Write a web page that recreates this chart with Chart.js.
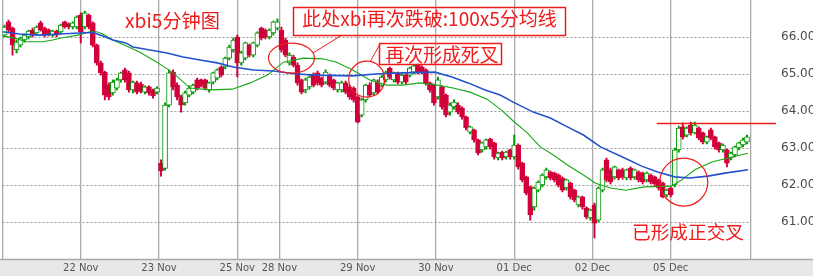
<!DOCTYPE html>
<html>
<head>
<meta charset="utf-8">
<script src="https://cdn.jsdelivr.net/npm/chart.js@4.4.1/dist/chart.umd.min.js"></script>
<style>
  html, body { margin: 0; padding: 0; background: #fff; }
  #wrap { width: 813px; height: 276px; position: relative; }
</style>
</head>
<body>
<div id="wrap"><canvas id="chart"></canvas></div>
<script>
// 日付の区切り（5分足のバー番号）とラベル
const dayStarts = [0, 78, 156, 234, 276, 354, 432, 510, 588, 666, 746];
const dayLabels = ['', '22 Nov', '23 Nov', '25 Nov', '28 Nov', '29 Nov', '30 Nov', '01 Dec', '02 Dec', '05 Dec', ''];
const priceTicks = [61, 62, 63, 64, 65, 66];

// ローソク足（20分ごとにまとめた値）
const opens = [
  66.05, 66.41, 66.24, 65.65, 65.78, 65.92, 66.00, 66.19, 66.11, 66.38,
  66.24, 66.19, 66.05, 66.16, 66.14, 66.41, 66.35, 66.27, 66.27, 66.59,
  66.27, 66.59, 66.38, 65.78, 65.30, 65.05, 64.70, 64.49, 64.62, 64.84,
  65.11, 65.03, 64.57, 64.76, 64.73, 64.51, 64.65, 64.57, 64.51, 62.59,
  62.45, 64.16, 65.05, 64.70, 64.38, 64.22, 64.43, 64.51, 64.84, 64.84,
  64.84, 64.57, 64.78, 64.89, 65.19, 65.19, 65.43, 65.65, 66.00, 65.30,
  65.43, 65.78, 65.51, 65.78, 66.24, 66.19, 66.00, 66.11, 66.24, 66.19,
  65.92, 65.30, 65.46, 65.24, 64.84, 64.57, 64.65, 64.97, 65.03, 64.89,
  64.78, 64.97, 64.84, 64.57, 64.57, 64.76, 64.65, 64.62, 64.38, 63.89,
  64.30, 64.70, 64.49, 64.78, 64.70, 64.84, 65.16, 64.84, 65.03, 64.78,
  64.97, 64.97, 65.05, 65.24, 65.19, 65.11, 64.76, 64.70, 64.38, 64.65,
  64.43, 63.97, 64.11, 64.16, 64.08, 63.84, 63.43, 63.49, 63.22, 62.95,
  63.03, 63.24, 63.14, 62.73, 62.89, 62.76, 62.95, 62.76, 63.08, 62.59,
  62.22, 61.95, 61.41, 61.86, 62.00, 62.22, 62.35, 62.32, 62.27, 62.19,
  61.92, 62.05, 61.86, 61.46, 61.68, 61.38, 61.11, 61.46, 61.05, 61.86,
  62.68, 62.41, 62.22, 62.41, 62.41, 62.19, 62.46, 62.22, 62.35, 62.32,
  62.14, 62.27, 62.22, 62.14, 62.05, 61.73, 61.92, 62.00, 62.95, 63.57,
  63.35, 63.62, 63.41, 63.54, 63.41, 63.16, 63.49, 63.30, 63.14, 62.95,
  62.95, 62.73, 62.81, 63.00, 63.08, 63.16
];
const highs = [
  66.32, 66.46, 66.27, 65.92, 66.00, 66.08, 66.19, 66.24, 66.30, 66.43,
  66.27, 66.22, 66.19, 66.19, 66.35, 66.43, 66.38, 66.41, 66.57, 66.65,
  66.70, 66.62, 66.41, 65.81, 65.35, 65.08, 64.76, 64.84, 64.89, 65.05,
  65.16, 65.08, 64.81, 64.81, 64.78, 64.68, 64.68, 64.59, 64.65, 62.68,
  64.22, 65.11, 65.11, 64.76, 64.43, 64.54, 64.68, 64.73, 64.89, 64.86,
  64.86, 64.78, 65.05, 65.14, 65.22, 65.46, 65.78, 65.97, 66.05, 65.62,
  65.86, 65.81, 65.86, 66.14, 66.27, 66.22, 66.22, 66.43, 66.49, 66.27,
  65.97, 65.57, 65.51, 65.30, 64.86, 64.89, 64.97, 65.03, 65.08, 64.92,
  65.11, 65.00, 64.86, 64.78, 64.81, 64.81, 64.70, 64.65, 64.41, 64.35,
  64.73, 64.76, 64.86, 64.84, 64.97, 65.08, 65.19, 65.05, 65.05, 65.00,
  65.00, 65.19, 65.24, 65.27, 65.22, 65.14, 64.78, 64.73, 64.92, 64.68,
  64.46, 64.22, 64.30, 64.22, 64.11, 63.86, 63.59, 63.51, 63.24, 63.16,
  63.24, 63.27, 63.16, 62.89, 62.92, 62.92, 62.97, 63.35, 63.11, 62.62,
  62.24, 61.97, 61.95, 62.11, 62.30, 62.46, 62.38, 62.35, 62.30, 62.22,
  62.16, 62.08, 61.89, 61.70, 61.70, 61.41, 61.35, 61.51, 61.95, 62.46,
  62.73, 62.46, 62.51, 62.43, 62.46, 62.43, 62.49, 62.43, 62.38, 62.35,
  62.35, 62.30, 62.24, 62.16, 62.08, 61.89, 61.95, 63.00, 63.59, 63.68,
  63.57, 63.70, 63.70, 63.57, 63.43, 63.32, 63.54, 63.32, 63.16, 63.11,
  62.97, 62.89, 63.05, 63.16, 63.27, 63.35
];
const lows = [
  66.00, 66.11, 65.51, 65.57, 65.73, 65.86, 65.95, 66.00, 66.05, 66.16,
  66.00, 66.03, 66.00, 66.00, 66.08, 66.24, 66.22, 66.22, 66.22, 65.84,
  66.22, 66.22, 65.73, 65.24, 64.97, 64.30, 64.30, 64.43, 64.57, 64.78,
  64.78, 64.51, 64.49, 64.46, 64.49, 64.46, 64.43, 64.35, 64.46, 62.24,
  62.40, 64.11, 64.57, 64.30, 63.97, 64.16, 64.38, 64.46, 64.57, 64.65,
  64.57, 64.51, 64.73, 64.84, 64.92, 65.14, 65.38, 65.59, 64.92, 65.24,
  65.38, 65.46, 65.46, 65.73, 65.92, 65.95, 65.95, 66.05, 66.19, 65.59,
  65.46, 65.24, 65.19, 64.70, 64.46, 64.49, 64.59, 64.65, 64.70, 64.65,
  64.73, 64.65, 64.57, 64.51, 64.51, 64.46, 64.32, 64.24, 63.68, 63.84,
  64.24, 64.38, 64.43, 64.46, 64.65, 64.78, 64.86, 64.78, 64.73, 64.73,
  64.73, 64.92, 65.00, 65.00, 65.00, 64.70, 64.51, 64.16, 64.32, 64.05,
  63.84, 63.89, 64.05, 63.92, 63.78, 63.49, 63.38, 63.16, 62.81, 62.89,
  62.97, 62.97, 62.70, 62.68, 62.68, 62.70, 62.70, 62.70, 62.43, 62.08,
  61.73, 61.05, 61.32, 61.81, 61.95, 62.16, 62.14, 62.08, 61.95, 61.81,
  61.86, 61.62, 61.54, 61.41, 61.35, 61.08, 61.05, 60.57, 61.00, 61.81,
  62.08, 62.03, 62.16, 62.14, 62.16, 62.14, 62.14, 62.16, 62.08, 62.03,
  62.08, 62.03, 61.97, 61.86, 61.65, 61.68, 61.68, 61.95, 62.89, 63.24,
  63.30, 63.35, 63.38, 63.22, 63.11, 63.11, 63.22, 62.97, 62.89, 62.89,
  62.49, 62.68, 62.76, 62.95, 63.03, 63.11
];
const closes = [
  66.27, 66.19, 65.78, 65.86, 65.97, 66.05, 66.16, 66.05, 66.27, 66.19,
  66.05, 66.08, 66.16, 66.05, 66.32, 66.27, 66.27, 66.38, 66.54, 66.14,
  66.65, 66.27, 65.78, 65.30, 65.03, 64.43, 64.38, 64.78, 64.84, 65.03,
  64.84, 64.57, 64.78, 64.51, 64.54, 64.65, 64.49, 64.41, 64.62, 62.38,
  64.16, 65.03, 64.65, 64.38, 64.16, 64.49, 64.62, 64.70, 64.62, 64.70,
  64.62, 64.76, 65.03, 65.11, 64.97, 65.43, 65.73, 65.92, 65.30, 65.57,
  65.84, 65.51, 65.84, 66.11, 65.97, 66.00, 66.19, 66.41, 66.41, 65.65,
  65.51, 65.51, 65.24, 64.76, 64.51, 64.84, 64.92, 64.70, 64.76, 64.70,
  65.05, 64.70, 64.62, 64.76, 64.76, 64.51, 64.38, 64.30, 63.70, 64.30,
  64.70, 64.43, 64.84, 64.51, 64.92, 65.05, 64.92, 65.03, 64.78, 64.97,
  64.78, 65.16, 65.22, 65.05, 65.05, 64.76, 64.57, 64.22, 64.84, 64.11,
  63.89, 64.16, 64.24, 63.97, 63.84, 63.54, 63.57, 63.22, 62.86, 63.14,
  63.22, 63.03, 62.76, 62.86, 62.73, 62.89, 62.76, 63.08, 62.49, 62.14,
  61.78, 61.19, 61.92, 62.08, 62.27, 62.41, 62.19, 62.14, 62.00, 61.86,
  62.14, 61.68, 61.59, 61.68, 61.41, 61.14, 61.32, 60.97, 61.92, 62.41,
  62.14, 62.08, 62.49, 62.19, 62.22, 62.41, 62.19, 62.41, 62.14, 62.08,
  62.32, 62.08, 62.03, 61.92, 61.68, 61.86, 61.73, 62.95, 63.54, 63.30,
  63.54, 63.41, 63.62, 63.27, 63.16, 63.30, 63.27, 63.03, 62.95, 63.08,
  62.59, 62.86, 63.03, 63.14, 63.22, 63.30
];

// 移動平均線（緑＝短期、青＝100x5分）
const maShortBars = [0, 12, 24, 40, 50, 60, 75, 87, 94, 100, 110, 122, 137, 154, 170, 187, 207, 229, 247, 264,
  280, 300, 319, 333, 349, 366, 383, 399, 416, 433, 449, 466, 483, 497, 509, 523, 536, 549, 563, 579,
  591, 606, 621, 640, 667, 677, 690, 707, 723, 743];
const maShortValues = [66.03, 65.97, 65.87, 65.87, 65.92, 65.98, 66.05, 66.14, 66.14, 66.08, 65.92, 65.78, 65.59, 65.32, 65.03, 64.62, 64.57, 64.59, 64.76, 64.97,
  65.32, 65.43, 65.41, 65.32, 65.11, 64.84, 64.70, 64.70, 64.76, 64.70, 64.62, 64.51, 64.32, 64.03, 63.73, 63.41, 63.03, 62.81, 62.54, 62.27,
  62.05, 61.92, 61.86, 61.95, 61.97, 62.14, 62.41, 62.62, 62.73, 62.86];
const maLongBars = [0, 17, 37, 57, 77, 90, 100, 110, 123, 130, 147, 164, 180, 197, 214, 230, 250, 270, 293, 313,
  349, 372, 399, 431, 448, 464, 481, 496, 509, 529, 546, 563, 579, 596, 620, 637, 653, 670, 685, 703, 720, 743];
const maLongValues = [66.14, 66.08, 66.05, 66.08, 66.11, 66.12, 66.03, 65.92, 65.84, 65.73, 65.65, 65.57, 65.46, 65.38, 65.30, 65.19, 65.11, 65.08, 65.00, 64.97,
  64.95, 65.00, 65.03, 65.05, 64.92, 64.76, 64.57, 64.43, 64.24, 63.97, 63.81, 63.57, 63.35, 63.03, 62.73, 62.51, 62.35, 62.22, 62.19, 62.24, 62.32, 62.41];

// 書き込み（丸印・抵抗線）
const circleMarks = [
  { bar: 288, price: 65.43, rx: 23, ry: 15 },
  { bar: 363, price: 64.86, rx: 18, ry: 18 },
  { bar: 679, price: 62.08, rx: 24, ry: 24 }
];
const resistPrice = 63.68;
const resistFromBar = 652;

const RED = '#d1003a';
const GREEN = '#009600';
const NOTE = '#f01c1c';

const barX = opens.map((_, i) => i * 4 + 2);
const isUp = opens.map((o, i) => closes[i] >= o);

function fitText(ctx, text, cx, cy, targetW) {
  ctx.font = '20px "Noto Sans CJK SC"';
  const w = ctx.measureText(text).width;
  ctx.font = (20 * targetW / w).toFixed(2) + 'px "Noto Sans CJK SC"';
  ctx.fillText(text, cx, cy);
}

const decorPlugin = {
  id: 'decor',
  beforeDraw(chart) {
    const { ctx, chartArea, width, height } = chart;
    ctx.save();
    ctx.fillStyle = '#fff';
    ctx.fillRect(0, 0, width, height);
    ctx.fillStyle = '#e8e8e8';
    ctx.fillRect(0, chartArea.bottom, width, height - chartArea.bottom);
    ctx.strokeStyle = '#a8a8a8';
    ctx.lineWidth = 1.5;
    ctx.beginPath();
    ctx.moveTo(0, chartArea.bottom + 0.5);
    ctx.lineTo(width, chartArea.bottom + 0.5);
    ctx.stroke();
    ctx.restore();
  },
  afterDraw(chart) {
    const { ctx, chartArea } = chart;
    const xs = chart.scales.x, ys = chart.scales.y;
    ctx.save();
    ctx.strokeStyle = NOTE;
    ctx.lineWidth = 1.2;

    circleMarks.forEach(c => {
      ctx.beginPath();
      ctx.ellipse(xs.getPixelForValue(c.bar), ys.getPixelForValue(c.price), c.rx, c.ry, 0, 0, Math.PI * 2);
      ctx.stroke();
    });

    // 抵抗線
    const ry = Math.round(ys.getPixelForValue(resistPrice)) + 0.5;
    ctx.lineWidth = 1.5;
    ctx.beginPath();
    ctx.moveTo(xs.getPixelForValue(resistFromBar), ry);
    ctx.lineTo(chartArea.right + 25, ry);
    ctx.stroke();

    // 引き出し線
    ctx.lineWidth = 1;
    ctx.beginPath();
    ctx.moveTo(313, 53); ctx.lineTo(342, 35);
    ctx.moveTo(370, 62); ctx.lineTo(380, 44);
    ctx.stroke();

    // 枠
    ctx.lineWidth = 1.5;
    ctx.strokeRect(293.5, 7.5, 272, 28);
    ctx.strokeRect(379.5, 43.5, 122, 21);

    ctx.fillStyle = NOTE;
    ctx.textAlign = 'center';
    ctx.textBaseline = 'middle';
    fitText(ctx, 'xbi5分钟图', 172.5, 21, 95);
    fitText(ctx, '此处xbi再次跌破:100x5分均线', 429.5, 19, 255);
    fitText(ctx, '再次形成死叉', 442, 54.5, 113);
    fitText(ctx, '已形成正交叉', 688, 232, 112);
    ctx.restore();
  }
};

new Chart(document.getElementById('chart'), {
  type: 'bar',
  data: {
    datasets: [
      {
        type: 'line',
        data: maLongBars.map((x, i) => ({ x, y: maLongValues[i] })),
        borderColor: '#2253cc',
        borderWidth: 1.6,
        pointRadius: 0,
        tension: 0,
        order: 0
      },
      {
        type: 'line',
        data: maShortBars.map((x, i) => ({ x, y: maShortValues[i] })),
        borderColor: '#16a816',
        borderWidth: 1.1,
        pointRadius: 0,
        tension: 0,
        order: 0
      },
      {
        data: barX.map((x, i) => ({ x, y: [opens[i], closes[i]] })),
        backgroundColor: isUp.map(u => (u ? '#ffffff' : RED)),
        borderColor: isUp.map(u => (u ? GREEN : RED)),
        borderWidth: 1,
        borderSkipped: false,
        barThickness: 5,
        minBarLength: 2,
        grouped: false,
        order: 1
      },
      {
        data: barX.map((x, i) => ({ x, y: [lows[i], highs[i]] })),
        backgroundColor: isUp.map(u => (u ? GREEN : RED)),
        borderWidth: 0,
        barThickness: 1.3,
        grouped: false,
        order: 2
      }
    ]
  },
  options: {
    responsive: true,
    maintainAspectRatio: false,
    animation: false,
    devicePixelRatio: 1,
    layout: { padding: { left: 2.5, top: 0, right: 0, bottom: 0 } },
    plugins: { legend: { display: false }, tooltip: { enabled: false } },
    scales: {
      x: {
        type: 'linear',
        min: 0,
        max: 746,
        offset: false,
        afterBuildTicks(scale) {
          scale.ticks = dayStarts.map(value => ({ value }));
        },
        afterFit(scale) {
          scale.height = 17;
          scale.paddingLeft = 0;
          scale.paddingRight = 0;
        },
        ticks: {
          autoSkip: false,
          maxRotation: 0,
          padding: 3,
          color: '#555',
          font: { family: 'DejaVu Sans', size: 10 },
          callback: (v, i) => dayLabels[i]
        },
        grid: { color: '#aaaaaa', lineWidth: 1.3, drawTicks: false, offset: false },
        border: { display: false }
      },
      y: {
        type: 'linear',
        position: 'right',
        min: 60,
        max: 67,
        afterBuildTicks(scale) {
          scale.ticks = priceTicks.map(value => ({ value }));
        },
        afterFit(scale) {
          scale.width = 62;
          scale.paddingTop = 0;
          scale.paddingBottom = 0;
        },
        ticks: {
          padding: 30,
          color: '#4a4a4a',
          font: { family: 'DejaVu Sans', size: 12 },
          callback: v => v.toFixed(2)
        },
        grid: { color: '#999999', lineWidth: 1, drawTicks: false },
        border: { display: false, dash: [2, 2] }
      }
    }
  },
  plugins: [decorPlugin]
});
</script>
</body>
</html>
